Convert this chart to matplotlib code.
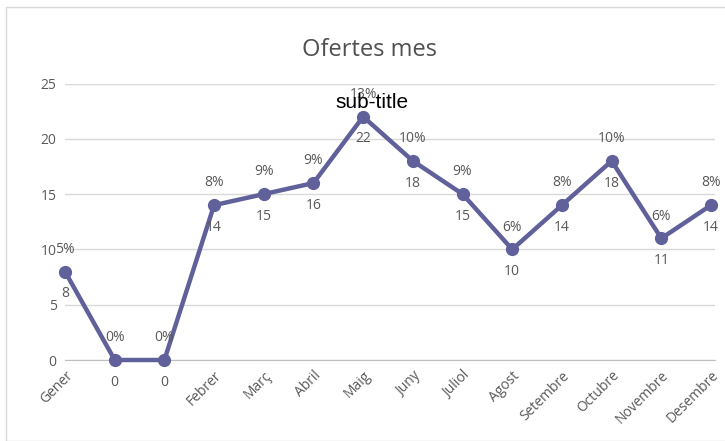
import matplotlib
matplotlib.use("Agg")
import matplotlib.pyplot as plt

categories = ["Gener", "", "", "Febrer", "Març", "Abril", "Maig", "Juny",
              "Juliol", "Agost", "Setembre", "Octubre", "Novembre", "Desembre"]
values = [8, 0, 0, 14, 15, 16, 22, 18, 15, 10, 14, 18, 11, 14]
percents = ["5%", "0%", "0%", "8%", "9%", "9%", "13%", "10%", "9%", "6%",
            "8%", "10%", "6%", "8%"]
yticks = [0, 5, 10, 15, 20, 25]

W, H = 725, 441
fig = plt.figure(figsize=(W / 100, H / 100), dpi=100)
ax = fig.add_axes([65 / W, 1 - 360 / H, (715 - 65) / W, (360 - 83.5) / H])

line_color = "#60609a"
text_color = "#595959"
font = "Open Sans"

x = list(range(len(values)))
ax.plot(x, values, color=line_color, lw=3.2, marker="o", ms=8.5,
        solid_joinstyle="round", zorder=3, clip_on=False)

for xi, v, p in zip(x, values, percents):
    ax.annotate(p, (xi, v), xytext=(0, 16), textcoords="offset points",
                ha="center", va="center", fontsize=10, color=text_color,
                family=font, zorder=4)
    ax.annotate(str(v), (xi, v), xytext=(0, -16), textcoords="offset points",
                ha="center", va="center", fontsize=10, color=text_color,
                family=font, zorder=4)

ax.set_xlim(0, 13.08)
ax.set_ylim(0, 25)
ax.set_yticks(yticks)
ax.set_yticklabels([str(t) for t in yticks], fontsize=10, color=text_color,
                   family=font)
ax.set_xticks(x)
ax.set_xticklabels(categories, fontsize=10, color=text_color, family=font,
                   rotation=45, ha="right", va="top", rotation_mode="anchor")
ax.tick_params(axis="both", length=0)
ax.tick_params(axis="x", pad=6)
ax.tick_params(axis="y", pad=6)
ax.grid(axis="y", color="#d9d9d9", lw=1)
ax.set_axisbelow(True)
for s in ["left", "right", "top"]:
    ax.spines[s].set_visible(False)
ax.spines["bottom"].set_color("#bfbfbf")
ax.set_facecolor("none")

fig.text(370 / W, 1 - 50 / H, "Ofertes mes", ha="center", va="center",
         fontsize=17, color="#505050", family=font)
fig.text(372 / W, 1 - 102 / H, "sub-title", ha="center", va="center",
         fontsize=15, color="black", family="Liberation Sans", zorder=10)

border = plt.Rectangle((6 / W, 0), 1.0, 1 - 7 / H, transform=fig.transFigure,
                       fill=False, edgecolor="#d9d9d9", lw=1)
fig.patches.append(border)

fig.savefig("out.png", dpi=100)
